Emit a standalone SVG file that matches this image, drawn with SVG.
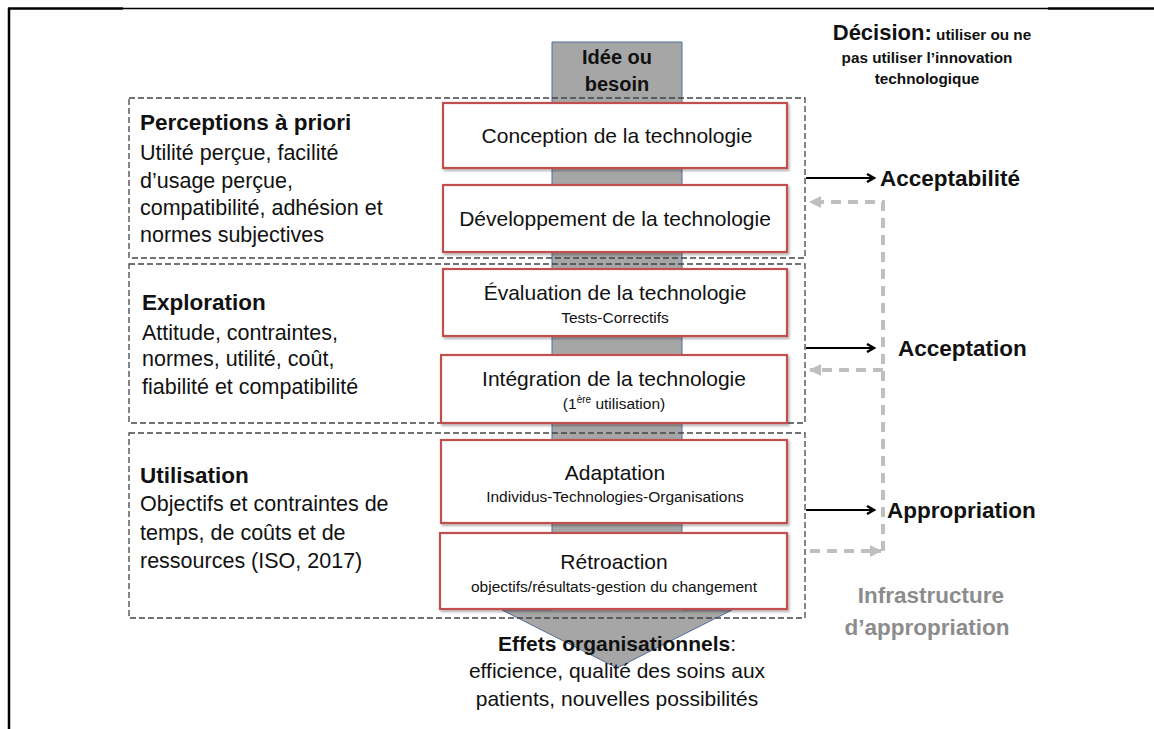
<svg xmlns="http://www.w3.org/2000/svg" width="1154" height="729" viewBox="0 0 1154 729">
<style>
text{font-family:"Liberation Sans",Arial,sans-serif;fill:#111}
.grp{fill:none;stroke:#444;stroke-width:1.3;stroke-dasharray:6 3}
.step{fill:#fff;stroke:#c0504d;stroke-width:2.2}
.t{font-size:21px;text-anchor:middle}
.s{font-size:15.5px;text-anchor:middle}
.h{font-size:22.5px;font-weight:bold}
.b{font-size:21.5px}
.k{stroke:#000;stroke-width:2.2;fill:none}
.g{stroke:#bfbfbf;stroke-width:4;fill:none;stroke-dasharray:10 7}
</style>
<defs>
<marker id="ab" markerWidth="10" markerHeight="10" refX="8" refY="5" orient="auto" markerUnits="userSpaceOnUse"><path d="M1,1 L8,5 L1,9" fill="none" stroke="#000" stroke-width="2.4"/></marker>
<marker id="ag" markerWidth="14" markerHeight="14" refX="12" refY="7" orient="auto" markerUnits="userSpaceOnUse"><path d="M1,1 L13,7 L1,13 Z" fill="#bfbfbf"/></marker>
<filter id="sh" x="-5%" y="-10%" width="112%" height="125%"><feDropShadow dx="1.5" dy="2" stdDeviation="1.2" flood-color="#000" flood-opacity="0.3"/></filter>
</defs>
<g id="frame">
<line x1="8" y1="8.5" x2="123" y2="8.5" stroke="#000" stroke-width="2.5"/>
<line x1="123" y1="8.5" x2="1048" y2="8.5" stroke="#000" stroke-width="1.5"/>
<line x1="1048" y1="8.5" x2="1154" y2="8.5" stroke="#000" stroke-width="2.5"/>
<line x1="9" y1="8" x2="9" y2="729" stroke="#000" stroke-width="2.5"/>
</g>
<g id="flow-arrow">
<path d="M552,42 H682 V610 H732 L617,668 L502,610 H552 Z" fill="#a6a6a6" stroke="#4f6fa0" stroke-width="1"/>
<text x="617" y="64" text-anchor="middle" font-size="20" font-weight="bold">Idée ou</text>
<text x="617" y="91" text-anchor="middle" font-size="20" font-weight="bold">besoin</text>
</g>
<g id="group-perceptions">
<rect x="129" y="98" width="676" height="160" class="grp"/>
<text x="140" y="130" class="h">Perceptions à priori</text>
<text x="140" y="160" class="b">Utilité perçue, facilité</text>
<text x="140" y="188" class="b">d’usage perçue,</text>
<text x="140" y="215" class="b">compatibilité, adhésion et</text>
<text x="140" y="242" class="b">normes subjectives</text>
</g>
<g id="group-exploration">
<rect x="129" y="264" width="676" height="159" class="grp"/>
<text x="142" y="310" class="h">Exploration</text>
<text x="142" y="340" class="b">Attitude, contraintes,</text>
<text x="142" y="366" class="b">normes, utilité, coût,</text>
<text x="142" y="394" class="b">fiabilité et compatibilité</text>
</g>
<g id="group-utilisation">
<rect x="129" y="433" width="676" height="185" class="grp"/>
<text x="140" y="483" class="h">Utilisation</text>
<text x="140" y="511" class="b">Objectifs et contraintes de</text>
<text x="140" y="540" class="b">temps, de coûts et de</text>
<text x="140" y="568" class="b">ressources (ISO, 2017)</text>
</g>
<g id="step-conception">
<rect x="443" y="103" width="344" height="65" class="step" filter="url(#sh)"/>
<text x="617" y="143" class="t">Conception de la technologie</text>
</g>
<g id="step-developpement">
<rect x="443" y="185" width="344" height="67" class="step" filter="url(#sh)"/>
<text x="615" y="226" class="t">Développement de la technologie</text>
</g>
<g id="step-evaluation">
<rect x="443" y="269" width="344" height="67" class="step" filter="url(#sh)"/>
<text x="615" y="300" class="t">Évaluation de la technologie</text>
<text x="615" y="323" class="s">Tests-Correctifs</text>
</g>
<g id="step-integration">
<rect x="441" y="355" width="346" height="68" class="step" filter="url(#sh)"/>
<text x="614" y="386" class="t">Intégration de la technologie</text>
<text x="614" y="409" class="s">(1<tspan font-size="10" dy="-6">ère</tspan><tspan dy="6"> utilisation)</tspan></text>
</g>
<g id="step-adaptation">
<rect x="441" y="440" width="346" height="83" class="step" filter="url(#sh)"/>
<text x="615" y="480" class="t">Adaptation</text>
<text x="615" y="502" class="s">Individus-Technologies-Organisations</text>
</g>
<g id="step-retroaction">
<rect x="440" y="533" width="347" height="76" class="step" filter="url(#sh)"/>
<text x="614" y="569" class="t">Rétroaction</text>
<text x="614" y="592" class="s">objectifs/résultats-gestion du changement</text>
</g>
<g id="effets">
<text x="617" y="651" class="t"><tspan font-weight="bold">Effets organisationnels</tspan>:</text>
<text x="617" y="678" class="t">efficience, qualité des soins aux</text>
<text x="617" y="706" class="t">patients, nouvelles possibilités</text>
</g>
<g id="connectors">
<line x1="806" y1="178" x2="874" y2="178" class="k" marker-end="url(#ab)"/>
<line x1="806" y1="348" x2="874" y2="348" class="k" marker-end="url(#ab)"/>
<line x1="806" y1="510" x2="874" y2="510" class="k" marker-end="url(#ab)"/>
<path d="M810,551 H881" class="g" marker-end="url(#ag)"/>
<path d="M883,551 V202 H810" class="g" marker-end="url(#ag)"/>
<path d="M883,370 H810" class="g" marker-end="url(#ag)"/>
</g>
<g id="decision">
<text x="932" y="40" text-anchor="middle" font-weight="bold"><tspan font-size="22">Décision:</tspan><tspan font-size="15.3"> utiliser ou ne</tspan></text>
<text x="927" y="63" text-anchor="middle" font-size="15.3" font-weight="bold">pas utiliser l’innovation</text>
<text x="927" y="84" text-anchor="middle" font-size="15.3" font-weight="bold">technologique</text>
</g>
<g id="labels">
<text x="880" y="186" class="h">Acceptabilité</text>
<text x="898" y="356" class="h">Acceptation</text>
<text x="887" y="518" class="h">Appropriation</text>
<text x="931" y="603" class="h" text-anchor="middle" style="fill:#8c8c8c">Infrastructure</text>
<text x="927" y="635" class="h" text-anchor="middle" style="fill:#8c8c8c">d’appropriation</text>
</g>
</svg>
